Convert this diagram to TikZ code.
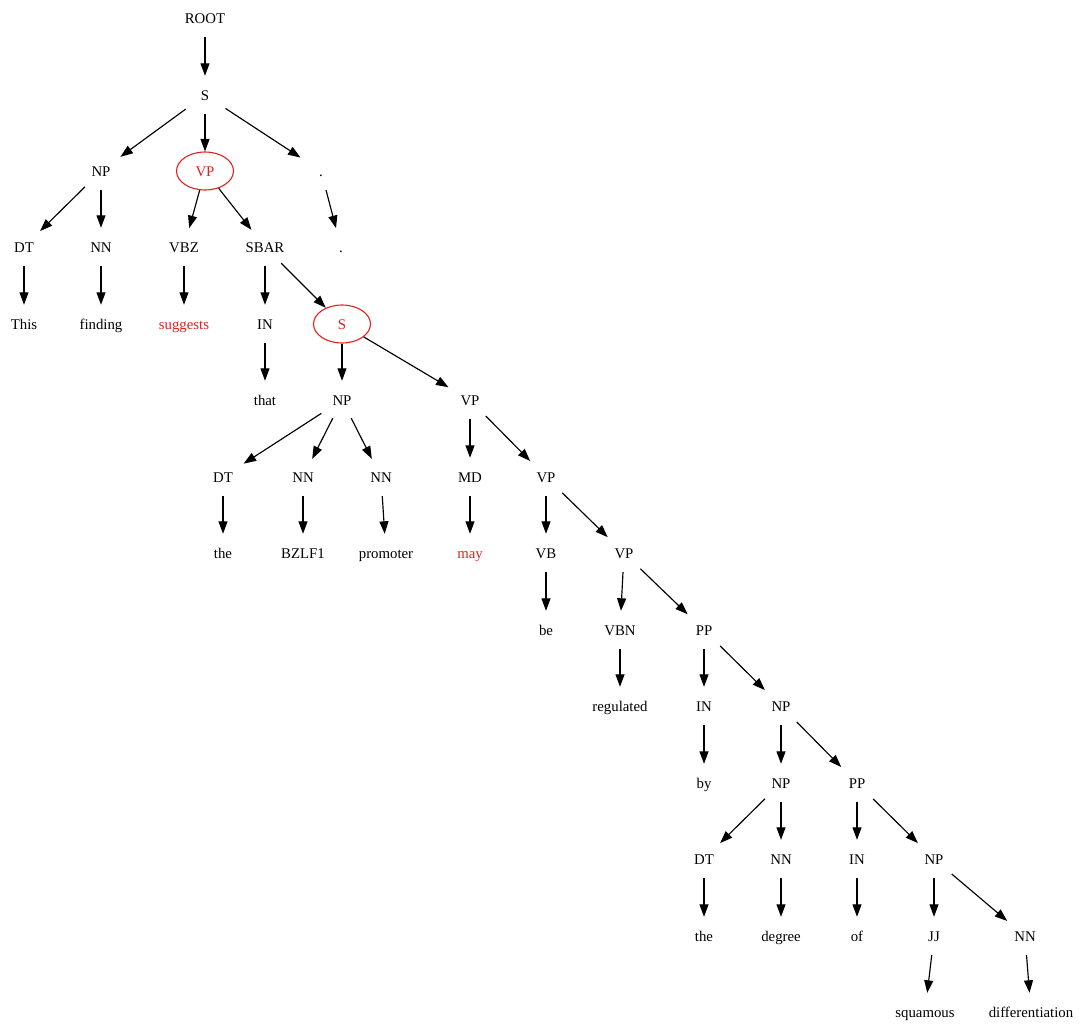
\documentclass[tikz,border=0pt]{standalone}
\usepackage{fontspec}
\setmainfont{Liberation Serif}
\usetikzlibrary{shapes.geometric,arrows.meta}
\definecolor{hl}{RGB}{230,30,30}
\begin{document}
\begin{tikzpicture}[x=1pt,y=-1pt,
  n/.style={ellipse,minimum width=57pt,minimum height=38pt,inner sep=2pt,text height=10pt,text depth=0pt,font=\fontsize{14.8}{17}\selectfont},
  hln/.style={n,draw=hl,line width=1.1pt,text=hl},
  hlt/.style={n,text=hl},
  e/.style={-{Triangle[length=12.5pt,width=9pt]},line width=1.15pt}]
\useasboundingbox (0,0) rectangle (1085,1026);
% level 0-1
\node[n] (root) at (205,18) {ROOT};
\node[n] (s) at (205,95) {S};
% level 2
\node[n] (np1) at (101,171) {NP};
\node[hln] (vp1) at (205,171) {VP};
\node[n] (dot1) at (321,171) {.};
% level 3
\node[n] (dt1) at (24,247) {DT};
\node[n] (nn1) at (101,247) {NN};
\node[n] (vbz) at (184,247) {VBZ};
\node[n] (sbar) at (265,247) {SBAR};
\node[n] (dot2) at (341,247) {.};
% level 4
\node[n] (this) at (24,324) {This};
\node[n] (finding) at (101,324) {finding};
\node[hlt] (suggests) at (184,324) {suggests};
\node[n] (in1) at (265,324) {IN};
\node[hln] (s2) at (342,324) {S};
% level 5
\node[n] (that) at (265,400) {that};
\node[n] (np2) at (342,400) {NP};
\node[n] (vp2) at (470,400) {VP};
% level 6
\node[n] (dt2) at (223,477) {DT};
\node[n] (nn2) at (303,477) {NN};
\node[n] (nn3) at (381,477) {NN};
\node[n] (md) at (470,477) {MD};
\node[n] (vp3) at (546,477) {VP};
% level 7
\node[n] (the1) at (223,553) {the};
\node[n] (bzlf) at (303,553) {BZLF1};
\node[n] (promoter) at (386,553) {promoter};
\node[hlt] (may) at (470,553) {may};
\node[n] (vb) at (546,553) {VB};
\node[n] (vp4) at (624,553) {VP};
% level 8
\node[n] (be) at (546,630) {be};
\node[n] (vbn) at (620,630) {VBN};
\node[n] (pp1) at (704,630) {PP};
% level 9
\node[n] (regulated) at (620,706) {regulated};
\node[n] (in2) at (704,706) {IN};
\node[n] (np3) at (781,706) {NP};
% level 10
\node[n] (by) at (704,783) {by};
\node[n] (np4) at (781,783) {NP};
\node[n] (pp2) at (857,783) {PP};
% level 11
\node[n] (dt3) at (704,859) {DT};
\node[n] (nn4) at (781,859) {NN};
\node[n] (in3) at (857,859) {IN};
\node[n] (np5) at (934,859) {NP};
% level 12
\node[n] (the2) at (704,936) {the};
\node[n] (degree) at (781,936) {degree};
\node[n] (of) at (857,936) {of};
\node[n] (jj) at (934,936) {JJ};
\node[n] (nn5) at (1025,936) {NN};
% level 13
\node[n] (squamous) at (925,1012) {squamous};
\node[n] (diff) at (1031,1012) {differentiation};
% edges
\foreach \a/\b in {root/s, s/np1, s/vp1, s/dot1,
  np1/dt1, np1/nn1, vp1/vbz, vp1/sbar, dot1/dot2,
  dt1/this, nn1/finding, vbz/suggests, sbar/in1, sbar/s2,
  in1/that, s2/np2, s2/vp2,
  np2/dt2, np2/nn2, np2/nn3, vp2/md, vp2/vp3,
  dt2/the1, nn2/bzlf, nn3/promoter, md/may, vp3/vb, vp3/vp4,
  vb/be, vp4/vbn, vp4/pp1,
  vbn/regulated, pp1/in2, pp1/np3,
  in2/by, np3/np4, np3/pp2,
  np4/dt3, np4/nn4, pp2/in3, pp2/np5,
  dt3/the2, nn4/degree, in3/of, np5/jj, np5/nn5,
  jj/squamous, nn5/diff}
  \draw[e] (\a) -- (\b);
\end{tikzpicture}
\end{document}
